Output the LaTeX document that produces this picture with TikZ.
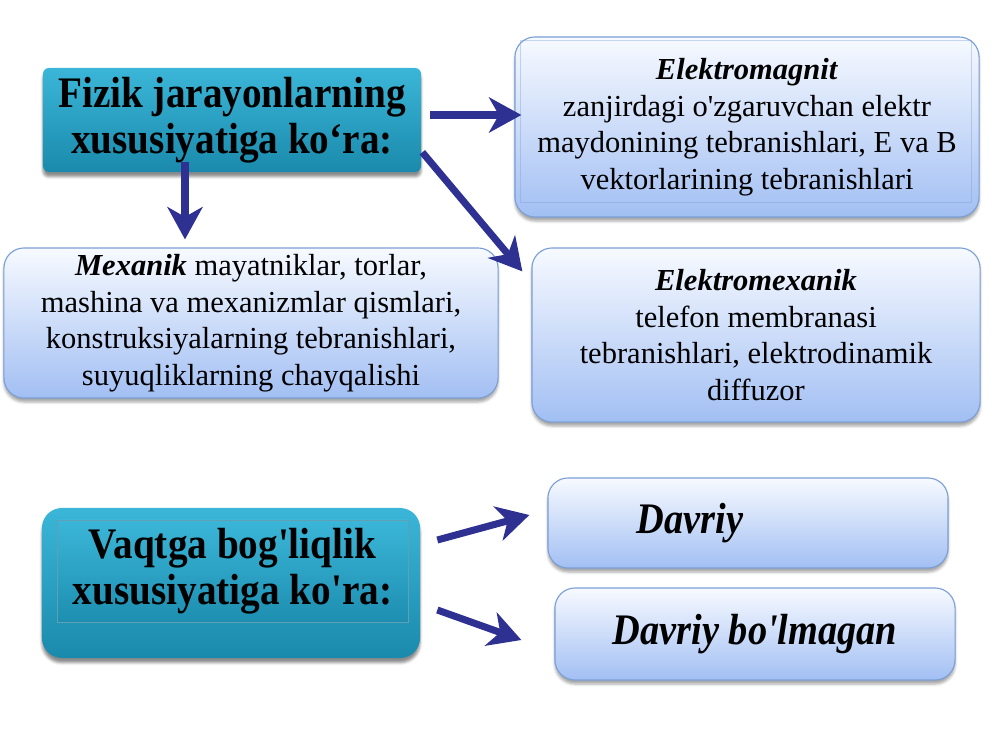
\documentclass[tikz,border=0pt]{standalone}
\usepackage{fontspec}
\setmainfont{Liberation Serif}
\newcommand{\apos}{\textquotesingle}
\newcommand{\narrow}[1]{\scalebox{0.88}[1]{#1}}
\newcommand{\squeeze}[1]{\scalebox{0.9}[1]{#1}}
\usetikzlibrary{arrows.meta,calc,shadows.blur}
\definecolor{Teal1}{HTML}{3BB6D8}
\definecolor{Teal2}{HTML}{1A8AAC}
\definecolor{TealLine}{HTML}{1B7896}
\definecolor{Sky1}{HTML}{F7FAFF}
\definecolor{Sky2}{HTML}{A2BFF3}
\definecolor{SkyLine}{HTML}{7B9FD7}
\definecolor{Ink}{HTML}{2E3192}

\begin{document}
\begin{tikzpicture}[x=0.025cm,y=-0.025cm,
  tealbox/.style={top color=Teal1,bottom color=Teal2,rounded corners=5mm,
    blur shadow={shadow xshift=0pt,shadow yshift=-1.2mm,shadow opacity=45}},
  tealtext/.style={align=center,font=\fontsize{31}{33}\selectfont\bfseries},
  tealface/.style={draw=TealLine!70,line width=0.4pt,top color=Teal1,bottom color=Teal2!90!Teal1},
  skybox/.style={draw=SkyLine,line width=0.8pt,top color=Sky1,bottom color=Sky2,
    rounded corners=5mm,align=center,font=\fontsize{21.7}{26}\selectfont,
    blur shadow={shadow xshift=0pt,shadow yshift=-1mm,shadow opacity=35}},
  bigsky/.style={skybox,font=\fontsize{31}{34}\selectfont\bfseries\itshape},
  arr/.style={Ink,line width=5pt,-{Stealth[length=23pt,width=25pt,inset=7pt]}}]
  \useasboundingbox (0,0) rectangle (1000,750);

  % Fizik jarayonlar (top left)
  \node[tealbox,tealtext,rounded corners=1.5mm,minimum width=94.5mm,minimum height=26mm] (fizik) at (232,120)
    {\squeeze{Fizik jarayonlarning}\\\squeeze{xususiyatiga ko‘ra:}};

  % Elektromagnit
  \node[skybox,minimum width=116mm,minimum height=45mm] (em) at (747,127)
    {\textbf{\textit{Elektromagnit}}\\zanjirdagi o\apos zgaruvchan elektr\\maydonining tebranishlari, E va B\\vektorlarining tebranishlari};
  \draw[SkyLine,line width=0.5pt,opacity=0.4] ($(em.north west)+(6,4)$) rectangle ($(em.south east)+(-8,-15)$);

  % Mexanik
  \node[skybox,minimum width=123.5mm,minimum height=37.5mm] (mex) at (251,323)
    {\textbf{\textit{Mexanik}} mayatniklar, torlar,\\mashina va mexanizmlar qismlari,\\konstruksiyalarning tebranishlari,\\suyuqliklarning chayqalishi};

  % Elektromexanik
  \node[skybox,minimum width=112mm,minimum height=43.5mm] (elmex) at (756,335)
    {\textbf{\textit{Elektromexanik}}\\telefon membranasi\\tebranishlari, elektrodinamik\\diffuzor};

  % Vaqtga bog'liqlik (bottom left)
  \node[tealbox,minimum width=94.5mm,minimum height=37.5mm] (vaqt) at (231,583) {};
  \node[tealface,tealtext,minimum width=87.75mm,minimum height=25.5mm] (vaqtface) at (232.5,571)
    {\squeeze{Vaqtga bog\apos liqlik}\\\squeeze{xususiyatiga ko\apos ra:}};

  % Davriy / Davriy bo'lmagan
  \node[bigsky,minimum width=100mm,minimum height=22.5mm] (davriy) at (748,523)
    {\narrow{Davriy}\hspace*{2.9cm}};
  \node[bigsky,minimum width=100mm,minimum height=23mm] (bolmagan) at (755,634)
    {\narrow{Davriy bo\apos lmagan}};

  % Arrows
  \draw[arr] ($(fizik.east)+(9,-5)$) -- ($(em.west)+(7,-12)$);
  \draw[arr] ($(fizik.south)+(-47,-10)$) -- ($(mex.north)+(-66,-8)$);
  \draw[arr] ($(fizik.south east)+(1,-20)$) -- ($(elmex.north west)+(-9,24)$);
  \draw[arr] ($(vaqt.east)+(17,-43)$) -- ($(davriy.west)+(-18,-8)$);
  \draw[arr] ($(vaqt.east)+(17,27)$) -- ($(bolmagan.west)+(-33,6)$);
\end{tikzpicture}
\end{document}
